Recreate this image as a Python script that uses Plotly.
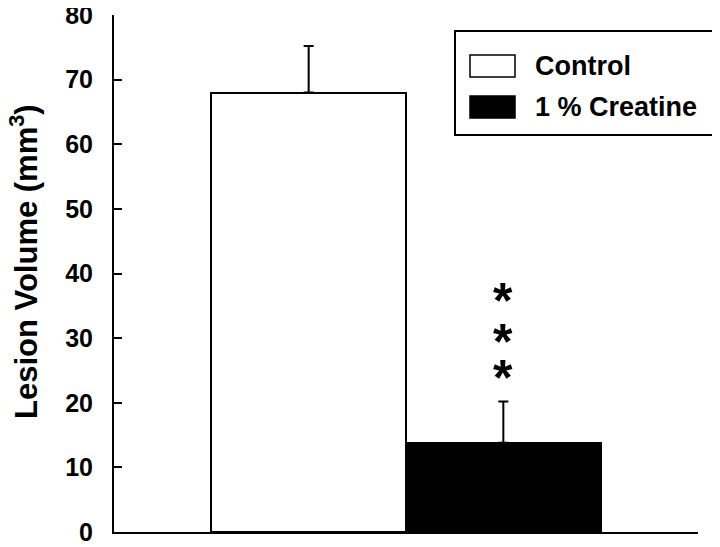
"""Lesion volume bar chart: Control vs 1 % Creatine, with upper SEM bars."""

import plotly.graph_objects as go

# ── data ──────────────────────────────────────────────────────────────────────
groups = ["Control", "1 % Creatine"]
lesion_volume = [68.0, 13.8]
sem_upper = [7.2, 6.4]
bar_fill = ["white", "black"]
star_y = [24.7, 30.4, 36.7]        # "***" significance marks over creatine bar
y_ticks = [0, 10, 20, 30, 40, 50, 60, 70, 80]

# ── layout (pixels on the final page; the page body adds an 8 px offset) ────
W, H = 720, 547
PAGE_OFFSET = 8
PLOT_L, PLOT_R, PLOT_T, PLOT_B = 114, 698, 15, 532
FONT = "Liberation Sans, Arial, Helvetica, sans-serif"


def px_x(p):
    return (p - PLOT_L) / (PLOT_R - PLOT_L)


def px_y(p):
    return (PLOT_B - p) / (PLOT_B - PLOT_T)


xpos = [i + 1 for i in range(len(groups))]

fig = go.Figure()

fig.add_trace(go.Bar(
    x=xpos,
    y=lesion_volume,
    width=1.0,
    marker={"color": bar_fill, "line": {"color": "black", "width": 2}},
    error_y={
        "type": "data", "symmetric": False,
        "array": sem_upper, "arrayminus": [0] * len(groups),
        "color": "black", "thickness": 2, "width": 5,
    },
    showlegend=False,
    hovertext=groups,
))

# significance stars
for sy in star_y:
    fig.add_annotation(
        x=xpos[1], y=sy, xref="x", yref="y",
        text="*", showarrow=False,
        font={"family": FONT, "size": 50, "color": "black", "weight": "bold"},
        yanchor="middle", yshift=-6,
    )

# y-axis title
fig.add_annotation(
    x=px_x(24), y=px_y(262), xref="paper", yref="paper",
    text="Lesion Volume (mm<sup>3</sup>)", textangle=-90, showarrow=False,
    font={"family": FONT, "size": 31, "color": "black", "weight": "bold"},
    xanchor="center", yanchor="middle",
)

# legend box, drawn by hand to get the wide swatches
fig.add_shape(type="rect", xref="paper", yref="paper",
              x0=px_x(455), x1=px_x(713), y0=px_y(135), y1=px_y(31),
              line={"color": "black", "width": 2}, fillcolor="white", layer="above")
legend_rows = [66, 107]
for i, name in enumerate(groups):
    cy = legend_rows[i]
    fig.add_shape(type="rect", xref="paper", yref="paper",
                  x0=px_x(470), x1=px_x(515), y0=px_y(cy + 11), y1=px_y(cy - 11),
                  line={"color": "black", "width": 1.5}, fillcolor=bar_fill[i],
                  layer="above")
    fig.add_annotation(
        x=px_x(533), y=px_y(cy), xref="paper", yref="paper",
        text=name, showarrow=False, xanchor="left", yanchor="middle",
        font={"family": FONT, "size": 27, "color": "black", "weight": "bold"},
    )

fig.update_layout(
    width=W, height=H,
    margin={
        "l": PLOT_L - PAGE_OFFSET,
        "r": W - (PLOT_R - PAGE_OFFSET),
        "t": PLOT_T - PAGE_OFFSET,
        "b": H - (PLOT_B - PAGE_OFFSET),
    },
    paper_bgcolor="white", plot_bgcolor="white",
    font={"family": FONT, "color": "black"},
    bargap=0,
    xaxis={
        "range": [0, 3], "showline": True, "linecolor": "black", "linewidth": 2,
        "showticklabels": False, "ticks": "", "showgrid": False, "zeroline": False,
        "automargin": False,
    },
    yaxis={
        "range": [0, 80], "tickvals": y_ticks, "showline": True,
        "linecolor": "black", "linewidth": 2, "ticks": "inside", "ticklen": 8,
        "tickwidth": 2, "tickcolor": "black", "showgrid": False, "zeroline": False,
        "ticklabelstandoff": 14, "ticklabeloverflow": "allow", "automargin": False,
        "tickfont": {"family": FONT, "size": 25, "color": "black", "weight": "bold"},
    },
)

fig.write_html("out.html")
